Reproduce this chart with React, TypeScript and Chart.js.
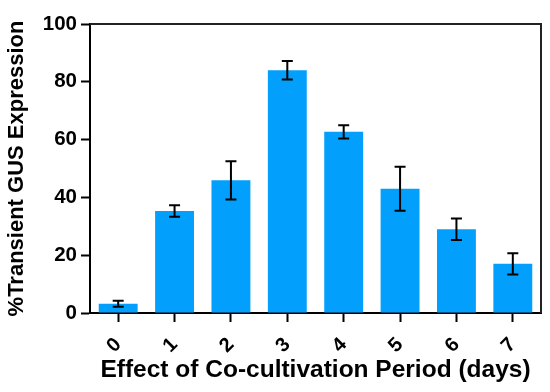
import React, { useEffect, useRef } from "react";
import { Chart, registerables } from "chart.js";

Chart.register(...registerables);

const categories = ["0", "1", "2", "3", "4", "5", "6", "7"];
const means = [3.2, 35.3, 45.9, 84.0, 62.7, 43.0, 29.0, 17.0];
const errors = [1.0, 2.0, 6.6, 3.2, 2.3, 7.6, 3.7, 3.7];
const yTicks = [0, 20, 40, 60, 80, 100];

const FONT = "'Liberation Sans', Arial, Helvetica, sans-serif";

const errorBarPlugin = {
  id: "errorBars",
  afterDatasetsDraw(chart: any) {
    const ctx = chart.ctx;
    const meta = chart.getDatasetMeta(0);
    const y = chart.scales.y;
    ctx.save();
    ctx.strokeStyle = "#000";
    ctx.lineWidth = 2;
    meta.data.forEach((bar: any, i: number) => {
      const x = bar.x;
      const top = y.getPixelForValue(means[i] + errors[i]);
      const bot = y.getPixelForValue(means[i] - errors[i]);
      const cap = 5.5;
      ctx.beginPath();
      ctx.moveTo(x, top);
      ctx.lineTo(x, bot);
      ctx.moveTo(x - cap, top);
      ctx.lineTo(x + cap, top);
      ctx.moveTo(x - cap, bot);
      ctx.lineTo(x + cap, bot);
      ctx.stroke();
    });
    ctx.restore();
  },
};

const framePlugin = {
  id: "frame",
  afterDraw(chart: any) {
    const { ctx, chartArea } = chart;
    ctx.save();
    ctx.strokeStyle = "#222";
    ctx.lineWidth = 2;
    ctx.beginPath();
    ctx.moveTo(chartArea.left, chartArea.top);
    ctx.lineTo(chartArea.right, chartArea.top);
    ctx.lineTo(chartArea.right, chartArea.bottom);
    ctx.stroke();
    ctx.restore();
  },
};

export default function App() {
  const ref = useRef<HTMLCanvasElement>(null);
  useEffect(() => {
    if (!ref.current) return;
    const chart = new Chart(ref.current, {
      type: "bar",
      data: {
        labels: categories,
        datasets: [
          {
            data: means,
            backgroundColor: "#02a0fc",
            borderWidth: 0,
            barPercentage: 0.69,
            categoryPercentage: 1,
          },
        ],
      },
      options: {
        animation: false,
        responsive: false,
        layout: { padding: { top: 24, right: 9, left: 0, bottom: 0 } },
        plugins: { legend: { display: false }, tooltip: { enabled: false } },
        scales: {
          x: {
            grid: {
              drawOnChartArea: false,
              offset: false,
              tickLength: 9,
              tickColor: "#000",
              tickWidth: 2,
            },
            border: { color: "#000", width: 2 },
            ticks: {
              color: "#000",
              font: { family: FONT, weight: "bold", size: 20 },
              minRotation: 45,
              maxRotation: 45,
              padding: 11,
            },
            title: {
              display: true,
              text: "Effect of Co-cultivation Period (days)",
              color: "#000",
              font: { family: FONT, weight: "bold", size: 24.5 },
              padding: { top: 0, bottom: 7 },
            },
            afterFit: (s: any) => {
              s.height = 79;
            },
          },
          y: {
            min: 0,
            max: 100,
            afterBuildTicks: (s: any) => {
              s.ticks = yTicks.map((v) => ({ value: v }));
            },
            grid: {
              drawOnChartArea: false,
              tickLength: 9,
              tickColor: "#000",
              tickWidth: 2,
            },
            border: { color: "#000", width: 2 },
            ticks: {
              color: "#000",
              font: { family: FONT, weight: "bold", size: 20.5 },
              padding: 4,
            },
            title: {
              display: true,
              text: "%Transient GUS Expression",
              color: "#000",
              font: { family: FONT, weight: "bold", size: 22 },
              padding: { top: 4, bottom: 0 },
            },
            afterFit: (s: any) => {
              s.width = 90;
            },
          },
        },
      },
      plugins: [errorBarPlugin, framePlugin],
    });
    return () => chart.destroy();
  }, []);
  return (
    <div style={{ position: "fixed", left: 0, top: 0, width: 550, height: 392, background: "#fff" }}>
      <canvas ref={ref} width={550} height={392} style={{ width: 550, height: 392 }} />
    </div>
  );
}
